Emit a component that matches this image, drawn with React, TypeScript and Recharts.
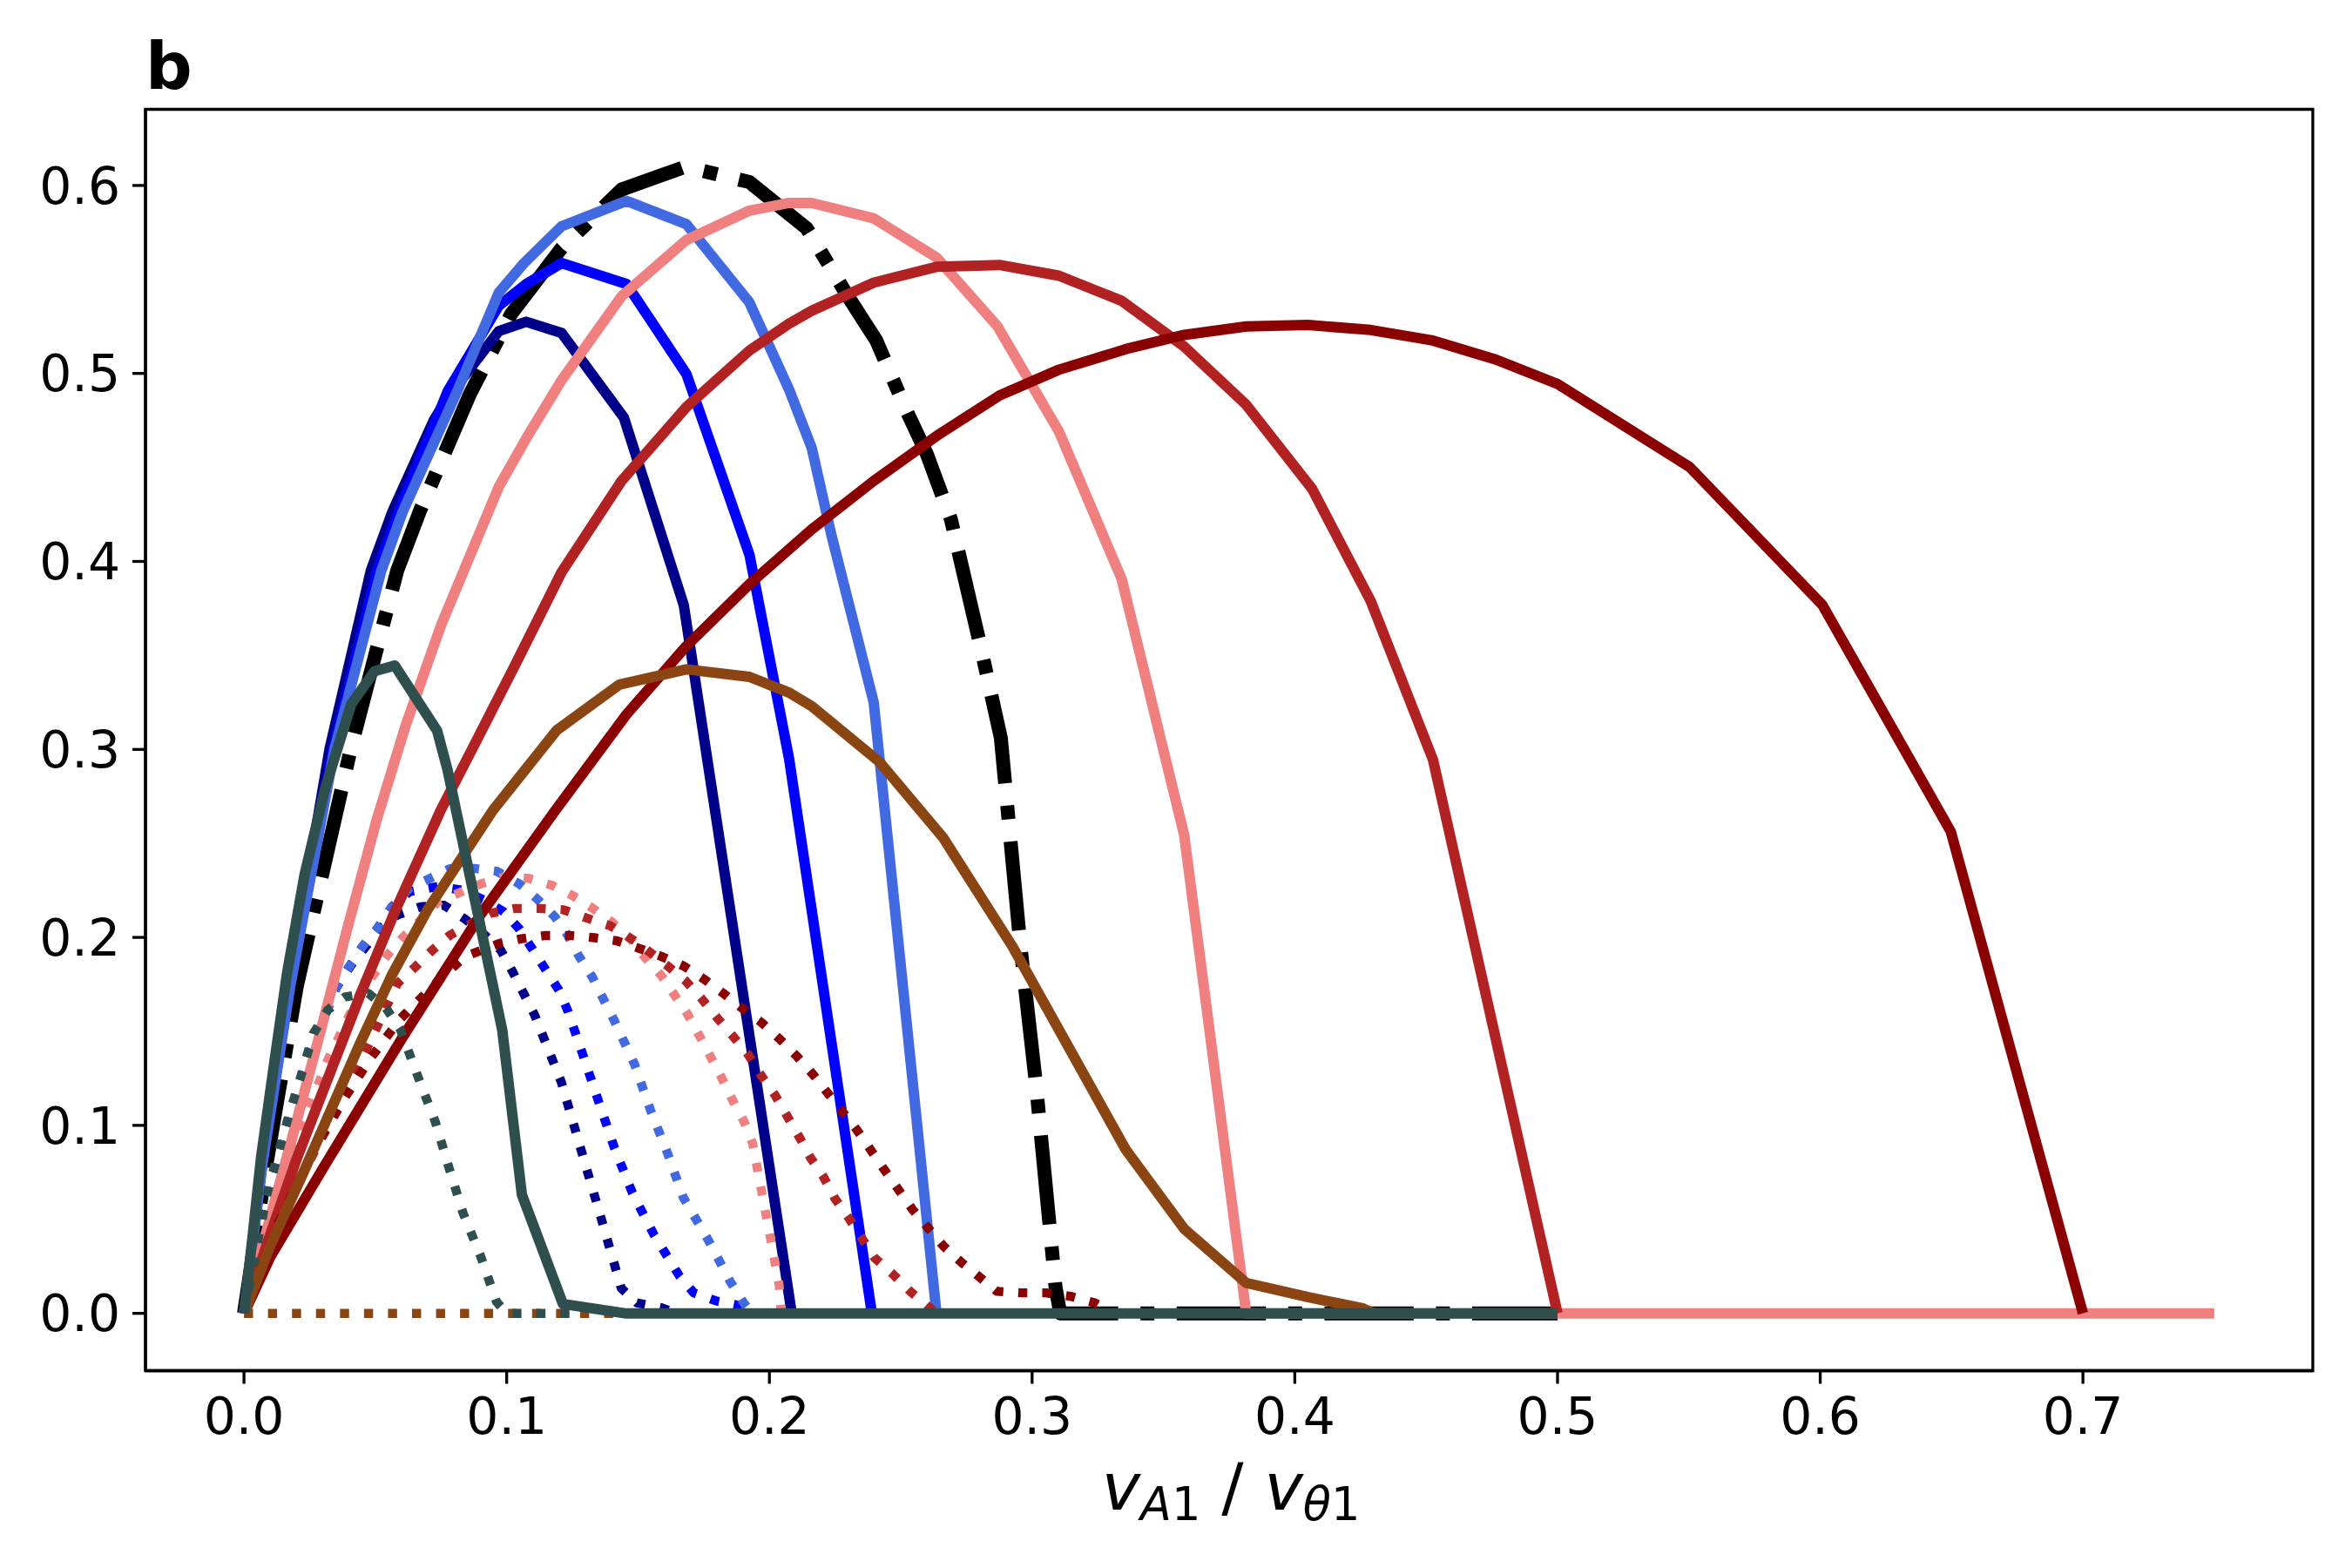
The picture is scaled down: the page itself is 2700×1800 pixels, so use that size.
import React from "react";
import { LineChart, Line, XAxis, YAxis, ReferenceArea } from "recharts";

type P = [number, number];

const xTicks = [0, 0.1, 0.2, 0.3, 0.4, 0.5, 0.6, 0.7];
const yTicks = [0, 0.1, 0.2, 0.3, 0.4, 0.5, 0.6];

const blackDashDot: P[] = [[0,0],[0.0085,0.079],[0.0201,0.174],[0.0406,0.300],[0.0583,0.395],[0.067,0.427],[0.086,0.489],[0.1017,0.5316],[0.1209,0.5667],[0.1437,0.5978],[0.168,0.610],[0.1924,0.6018],[0.2142,0.5772],[0.2294,0.5421],[0.2407,0.5175],[0.2522,0.4801],[0.2599,0.4572],[0.2691,0.4224],[0.2808,0.3522],[0.2881,0.3061],[0.2956,0.1947],[0.3015,0.1217],[0.3089,0.0142],[0.3107,0],[0.5,0]];

const navySolid: P[] = [[0,0],[0.0068,0.0792],[0.0172,0.174],[0.0326,0.3004],[0.0483,0.3952],[0.0566,0.4268],[0.0722,0.475],[0.077,0.486],[0.097,0.5225],[0.1074,0.5275],[0.1209,0.5215],[0.1446,0.4765],[0.1674,0.3768],[0.2085,0]];
const navyDotted: P[] = [[0,0],[0.005,0.034],[0.01,0.064],[0.0197,0.1152],[0.0253,0.1401],[0.0353,0.1738],[0.0408,0.1853],[0.0463,0.195],[0.0519,0.2048],[0.0584,0.2119],[0.0673,0.2163],[0.0761,0.2171],[0.0839,0.21],[0.0917,0.2012],[0.0977,0.1933],[0.1022,0.1819],[0.1106,0.1588],[0.1208,0.123],[0.1283,0.087],[0.136,0.0503],[0.1436,0.0134],[0.1495,0.0056],[0.1588,0.003],[0.165,0]];

const blueSolid: P[] = [[0,0],[0.0069,0.0792],[0.0174,0.174],[0.034,0.3004],[0.0506,0.3952],[0.0589,0.4268],[0.0775,0.4904],[0.097,0.536],[0.1075,0.5476],[0.1209,0.5587],[0.1456,0.5476],[0.1684,0.4997],[0.1924,0.4036],[0.2075,0.295],[0.239,0]];
const blueDotted: P[] = [[0,0],[0.005,0.034],[0.01,0.064],[0.0197,0.1152],[0.0253,0.1401],[0.0353,0.1738],[0.0408,0.186],[0.0452,0.1953],[0.0508,0.2047],[0.0563,0.2162],[0.063,0.2243],[0.0739,0.2271],[0.0828,0.2252],[0.0912,0.22],[0.0988,0.2137],[0.1048,0.2045],[0.1097,0.194],[0.1148,0.1829],[0.1199,0.1719],[0.1233,0.1608],[0.1292,0.1367],[0.135,0.1126],[0.141,0.088],[0.1479,0.0639],[0.1561,0.0417],[0.1656,0.0202],[0.1712,0.0109],[0.18,0.0065],[0.1891,0.004],[0.195,0]];

const royalSolid: P[] = [[0,0],[0.007,0.0792],[0.0176,0.174],[0.0345,0.3004],[0.0523,0.3952],[0.0605,0.4268],[0.081,0.49],[0.097,0.543],[0.1066,0.5587],[0.1209,0.5783],[0.1456,0.5918],[0.1684,0.5794],[0.1923,0.538],[0.2075,0.4914],[0.2161,0.4604],[0.2236,0.414],[0.2397,0.3251],[0.2636,0]];
const royalDotted: P[] = [[0,0],[0.005,0.034],[0.01,0.064],[0.0197,0.1152],[0.0253,0.1401],[0.0353,0.1738],[0.0408,0.186],[0.0452,0.1953],[0.0508,0.2047],[0.0563,0.2162],[0.063,0.2262],[0.0695,0.2305],[0.0784,0.2366],[0.0878,0.2367],[0.0962,0.2352],[0.1048,0.2285],[0.1114,0.2207],[0.1183,0.211],[0.1233,0.201],[0.1275,0.19],[0.1326,0.1789],[0.141,0.1556],[0.1487,0.1324],[0.1546,0.1086],[0.1612,0.0853],[0.1673,0.0614],[0.1767,0.0391],[0.1851,0.0169],[0.1902,0.0056],[0.1935,0]];

const coralSolid: P[] = [[0,0],[0.01,0.051],[0.02,0.102],[0.0295,0.152],[0.0395,0.2056],[0.0505,0.2625],[0.0616,0.313],[0.0751,0.3664],[0.097,0.4397],[0.1075,0.4656],[0.1209,0.4964],[0.1437,0.541],[0.1684,0.571],[0.1924,0.5866],[0.2075,0.5907],[0.2161,0.5907],[0.2397,0.5825],[0.2636,0.5617],[0.2868,0.5251],[0.3102,0.4692],[0.3341,0.3906],[0.3579,0.2543],[0.3815,0],[0.75,0]];
const coralDotted: P[] = [[0,0],[0.01,0.05],[0.018,0.085],[0.0253,0.1115],[0.0319,0.1347],[0.0441,0.1702],[0.0497,0.1808],[0.0546,0.1906],[0.0607,0.2003],[0.0673,0.2092],[0.0739,0.2191],[0.0906,0.2287],[0.0994,0.2323],[0.1083,0.2314],[0.1174,0.2276],[0.1249,0.2224],[0.1326,0.2156],[0.1402,0.208],[0.1471,0.1993],[0.1529,0.1889],[0.1589,0.1796],[0.1639,0.1693],[0.169,0.1588],[0.1733,0.1478],[0.1775,0.1367],[0.1817,0.1257],[0.1859,0.1136],[0.1902,0.1025],[0.1936,0.0905],[0.1969,0.0657],[0.2003,0.0407],[0.2037,0.0152],[0.2045,0]];

const firebrickSolid: P[] = [[0,0],[0.01,0.042],[0.02,0.082],[0.03,0.118],[0.045,0.172],[0.0575,0.214],[0.0749,0.2677],[0.089,0.306],[0.1036,0.346],[0.1209,0.3943],[0.1437,0.4428],[0.1684,0.4821],[0.1924,0.5122],[0.2075,0.5265],[0.2161,0.5333],[0.2397,0.5483],[0.2636,0.5567],[0.2876,0.5577],[0.3102,0.552],[0.3341,0.5386],[0.3579,0.5143],[0.3815,0.4833],[0.4066,0.4386],[0.4289,0.3789],[0.4526,0.2945],[0.5,0]];
const firebrickDotted: P[] = [[0,0],[0.01,0.037],[0.022,0.0727],[0.0341,0.1065],[0.0441,0.133],[0.0584,0.1755],[0.0652,0.1843],[0.0717,0.1932],[0.0784,0.2012],[0.0939,0.2128],[0.1032,0.2154],[0.1127,0.2154],[0.1216,0.2147],[0.13,0.2105],[0.1394,0.2062],[0.15,0.197],[0.1613,0.1848],[0.1681,0.1769],[0.1741,0.1676],[0.18,0.1574],[0.1859,0.1478],[0.1919,0.1377],[0.1969,0.1265],[0.2021,0.1162],[0.2063,0.106],[0.2113,0.094],[0.2156,0.0829],[0.2206,0.0726],[0.2248,0.0614],[0.23,0.0511],[0.24,0.0296],[0.2469,0.021],[0.2536,0.0117],[0.2596,0.0048],[0.2635,0]];

const darkRedSolid: P[] = [[0,0],[0.01,0.03],[0.03,0.077],[0.06,0.146],[0.09,0.212],[0.1186,0.2677],[0.1456,0.3186],[0.1682,0.3547],[0.1924,0.3879],[0.2161,0.417],[0.2397,0.4428],[0.2636,0.4667],[0.2876,0.4883],[0.3102,0.502],[0.3371,0.5135],[0.3579,0.5205],[0.3815,0.525],[0.4049,0.5258],[0.4289,0.5231],[0.4526,0.5175],[0.4765,0.5074],[0.5,0.4944],[0.5503,0.4502],[0.6008,0.3769],[0.6497,0.2563],[0.7,0]];
const darkRedDotted: P[] = [[0,0],[0.0131,0.048],[0.0253,0.0833],[0.0386,0.1152],[0.0486,0.1366],[0.0596,0.1568],[0.0717,0.1738],[0.0839,0.1897],[0.0972,0.1968],[0.1056,0.1993],[0.1148,0.201],[0.1242,0.201],[0.1335,0.1998],[0.1419,0.1982],[0.1504,0.1942],[0.1588,0.1899],[0.1673,0.1848],[0.175,0.1779],[0.1825,0.1702],[0.1894,0.1625],[0.1969,0.1548],[0.2037,0.1462],[0.2105,0.1367],[0.2165,0.1273],[0.2223,0.117],[0.2334,0.0974],[0.2435,0.0769],[0.2544,0.0554],[0.2663,0.0357],[0.2731,0.0271],[0.2799,0.0194],[0.2866,0.0117],[0.296,0.0109],[0.3052,0.0109],[0.3146,0.0091],[0.3238,0.0056],[0.331,0]];

const brownSolid: P[] = [[0,0],[0.01,0.036],[0.0231,0.0764],[0.0441,0.1434],[0.0563,0.18],[0.07,0.215],[0.0948,0.2677],[0.1191,0.3103],[0.1429,0.3345],[0.1684,0.3426],[0.1924,0.3386],[0.2075,0.3302],[0.2161,0.323],[0.2418,0.2935],[0.266,0.2533],[0.2926,0.195],[0.3356,0.0872],[0.3579,0.0449],[0.3815,0.0162],[0.4052,0.0086],[0.4259,0.0027],[0.43,0]];
const brownDotted: P[] = [[0,0],[0.5,0]];

const slateSolid: P[] = [[0,0],[0.0032,0.04],[0.0065,0.083],[0.0115,0.133],[0.0164,0.181],[0.0231,0.2337],[0.0308,0.2788],[0.0408,0.324],[0.0497,0.3416],[0.0574,0.3446],[0.0735,0.31],[0.0775,0.289],[0.0983,0.1508],[0.1058,0.063],[0.1214,0.005],[0.145,0],[0.5,0]];
const slateDotted: P[] = [[0,0],[0.0088,0.0639],[0.0164,0.102],[0.022,0.1277],[0.0264,0.1488],[0.0319,0.1614],[0.0386,0.1684],[0.0474,0.1702],[0.0541,0.1623],[0.0596,0.1507],[0.0662,0.126],[0.0728,0.102],[0.0779,0.0781],[0.0834,0.0533],[0.0901,0.0303],[0.0961,0.0062],[0.1,0],[0.125,0]];

const SOLID_W = 12;
const DOT_W = 10.4;
const DOTS = `${DOT_W} ${DOT_W * 1.65}`;
const BLACK_W = 16;
const DASHDOT = `${BLACK_W * 6.4} ${BLACK_W * 1.6} ${BLACK_W} ${BLACK_W * 1.6}`;

type Series = { name: string; pts: P[]; color: string; kind: "solid" | "dotted" | "dashdot" };

const series: Series[] = [
  { name: "black", pts: blackDashDot, color: "#000000", kind: "dashdot" },
  { name: "navyS", pts: navySolid, color: "#00008B", kind: "solid" },
  { name: "navyD", pts: navyDotted, color: "#00008B", kind: "dotted" },
  { name: "blueS", pts: blueSolid, color: "#0000FF", kind: "solid" },
  { name: "blueD", pts: blueDotted, color: "#0000FF", kind: "dotted" },
  { name: "royalS", pts: royalSolid, color: "#4169E1", kind: "solid" },
  { name: "royalD", pts: royalDotted, color: "#4169E1", kind: "dotted" },
  { name: "coralS", pts: coralSolid, color: "#F08080", kind: "solid" },
  { name: "coralD", pts: coralDotted, color: "#F08080", kind: "dotted" },
  { name: "fbS", pts: firebrickSolid, color: "#B22222", kind: "solid" },
  { name: "fbD", pts: firebrickDotted, color: "#B22222", kind: "dotted" },
  { name: "drS", pts: darkRedSolid, color: "#8B0000", kind: "solid" },
  { name: "drD", pts: darkRedDotted, color: "#8B0000", kind: "dotted" },
  { name: "brS", pts: brownSolid, color: "#8B4513", kind: "solid" },
  { name: "brD", pts: brownDotted, color: "#8B4513", kind: "dotted" },
  { name: "slS", pts: slateSolid, color: "#2F4F4F", kind: "solid" },
  { name: "slD", pts: slateDotted, color: "#2F4F4F", kind: "dotted" },
];

const FONT = "DejaVu Sans";
const tickStyle = { fontSize: 58.3, fill: "#000000", fontFamily: FONT };
const axisStroke = { stroke: "#000000", strokeWidth: 3.3 };

export default function App() {
  return (
    <div style={{ position: "absolute", left: 0, top: 0, width: 2700, height: 1800, background: "#ffffff" }}>
      <LineChart
        width={2700}
        height={1800}
        margin={{ top: 125.5, right: 45, left: 0, bottom: 126.5 }}
      >
        <XAxis
          type="number"
          dataKey="x"
          domain={[-0.0375, 0.7875]}
          ticks={xTicks}
          allowDataOverflow
          tickFormatter={(v: number) => v.toFixed(1)}
          tick={tickStyle}
          tickLine={axisStroke}
          axisLine={axisStroke}
          tickSize={15}
          tickMargin={16}
          height={100}
          interval={0}
        />
        <YAxis
          type="number"
          domain={[-0.0305, 0.6405]}
          ticks={yTicks}
          allowDataOverflow
          tickFormatter={(v: number) => v.toFixed(1)}
          tick={tickStyle}
          tickLine={axisStroke}
          axisLine={axisStroke}
          tickSize={15}
          tickMargin={14}
          width={167}
          interval={0}
        />
        {series.map((s) => (
          <Line
            key={s.name}
            data={s.pts.map(([x, y]) => ({ x, y }))}
            dataKey="y"
            type="linear"
            stroke={s.color}
            strokeWidth={s.kind === "solid" ? SOLID_W : s.kind === "dotted" ? DOT_W : BLACK_W}
            strokeDasharray={s.kind === "dotted" ? DOTS : s.kind === "dashdot" ? DASHDOT : undefined}
            strokeLinecap="butt"
            strokeLinejoin="round"
            dot={false}
            activeDot={false}
            isAnimationActive={false}
          />
        ))}
        <ReferenceArea
          x1={-0.0375}
          x2={0.7875}
          y1={-0.0305}
          y2={0.6405}
          fill="none"
          fillOpacity={0}
          stroke="#000000"
          strokeWidth={3.3}
          ifOverflow="visible"
        />
      </LineChart>
      <svg
        width={2700}
        height={1800}
        style={{ position: "absolute", left: 0, top: 0, pointerEvents: "none" }}
      >
        <text x={167} y={102} fontSize={75} fontWeight="bold" fontFamily={FONT} fill="#000">
          b
        </text>
        <text x={1413} y={1733} textAnchor="middle" fontSize={75} fontFamily={FONT} fill="#000" style={{ whiteSpace: "pre" }}>
          <tspan fontStyle="italic">v</tspan>
          <tspan fontStyle="italic" fontSize={52.5} dy={12}>A</tspan>
          <tspan fontSize={52.5}>1</tspan>
          <tspan dy={-12}>{" / "}</tspan>
          <tspan fontStyle="italic">v</tspan>
          <tspan fontStyle="italic" fontSize={52.5} dy={12}>θ</tspan>
          <tspan fontSize={52.5}>1</tspan>
        </text>
      </svg>
    </div>
  );
}
